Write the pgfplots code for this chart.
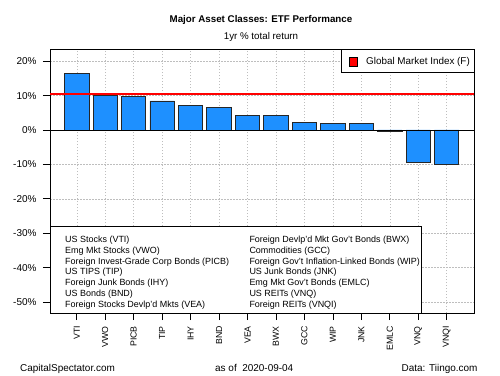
\documentclass[border=0pt]{standalone}
\usepackage{fontspec}
\setmainfont{Liberation Sans}
\usepackage{pgfplots}
\pgfplotsset{compat=1.18}
\definecolor{barblue}{HTML}{1E90FF}
\definecolor{gridgray}{HTML}{BEBEBE}
\newcommand{\lf}{\fontsize{9}{10}\selectfont}
\begin{document}
\begin{tikzpicture}[x=1bp,y=1bp]
\begin{axis}[
  at={(50bp,62bp)}, anchor=south west,
  scale only axis, width=424bp, height=263.5bp,
  xmin=-0.94, xmax=13.96, ymin=-53.2, ymax=23.4,
  xtick={0,...,13},
  xticklabels={VTI,VWO,PICB,TIP,IHY,BND,VEA,BWX,GCC,WIP,JNK,EMLC,VNQ,VNQI},
  xticklabel style={rotate=90, anchor=east, inner sep=0pt, font=\fontsize{8.8}{10}\selectfont},
  xticklabel shift=6bp,
  ytick={-50,-40,...,20},
  yticklabels={-50\%,-40\%,-30\%,-20\%,-10\%,0\%,10\%,20\%},
  yticklabel style={anchor=east, inner sep=0pt, font=\fontsize{10}{11}\selectfont},
  yticklabel shift=6.3bp,
  tick align=outside, major tick length=7bp,
  tick style={black, line width=0.6bp},
  xtick pos=left, ytick pos=left,
  grid=major,
  major grid style={gridgray, dash pattern=on 1.5bp off 1.5bp, line width=0.5bp},
  axis line style={black, line width=0.8bp},
]
\addplot[ybar, bar width=0.857, fill=barblue, draw=black!85, line width=0.8bp]
  coordinates {(0,16.5) (1,10.2) (2,9.7) (3,8.45) (4,7.1) (5,6.5) (6,4.25) (7,4.15)
               (8,2.1) (9,1.95) (10,1.95) (11,-0.3) (12,-9.3) (13,-9.9)};
\addplot[black, line width=0.8bp] coordinates {(-0.94,0) (13.96,0)};
\addplot[red, line width=1.5bp] coordinates {(-0.94,10.4) (13.96,10.4)};
\end{axis}
% top legend
\draw[fill=white, line width=0.7bp] (341,302.7) rectangle (474,325.5);
\draw[fill=red, line width=0.5bp] (349,309.2) rectangle (357.3,317.5);
\node[anchor=west, inner sep=0, font=\fontsize{9.9}{11}\selectfont] at (366,313.3) {Global Market Index (F)};
% bottom legend
\draw[fill=white, line width=0.7bp] (50,62) rectangle (421.7,148.3);
\foreach \t [count=\i from 0] in {US Stocks (VTI),Emg Mkt Stocks (VWO),Foreign Invest-Grade Corp Bonds (PICB),US TIPS (TIP),Foreign Junk Bonds (IHY),US Bonds (BND),Foreign Stocks Devlp'd Mkts (VEA)}
  \node[anchor=base west, inner sep=0, font=\lf] at (65,{135.7-10.8*\i-3.2}) {\t};
\foreach \t [count=\i from 0] in {Foreign Devlp'd Mkt Gov't Bonds (BWX),Commodities (GCC),Foreign Gov't Inflation-Linked Bonds (WIP),US Junk Bonds (JNK),Emg Mkt Gov't Bonds (EMLC),US REITs (VNQ),Foreign REITs (VNQI)}
  \node[anchor=base west, inner sep=0, font=\lf] at (249.3,{135.7-10.8*\i-3.2}) {\t};
% titles
\node[font=\bfseries\fontsize{9.8}{11}\selectfont] at (261,355) {Major Asset Classes: ETF Performance};
\node[font=\fontsize{9.8}{11}\selectfont] at (261,338) {1yr \% total return};
% footer
\node[anchor=base west, inner sep=0, font=\fontsize{10}{11}\selectfont] at (20,3.7) {CapitalSpectator.com};
\node[anchor=base west, inner sep=0, font=\fontsize{10}{11}\selectfont] at (215,3.7) {as of\ \ 2020-09-04};
\node[anchor=base east, inner sep=0, font=\fontsize{10}{11}\selectfont] at (477.7,3.7) {Data: Tiingo.com};
\pgfresetboundingbox
\useasboundingbox (0,0) rectangle (500,375);
\end{tikzpicture}
\end{document}
